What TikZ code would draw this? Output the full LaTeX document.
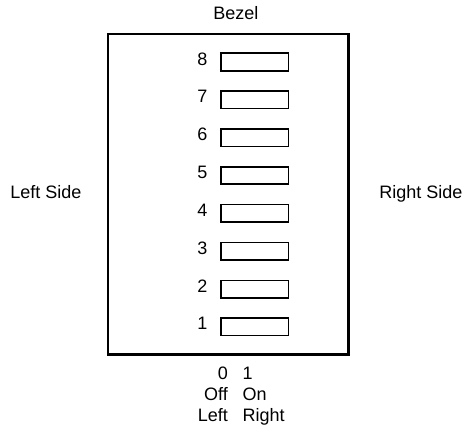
\documentclass[tikz,border=0pt]{standalone}
\usepackage{fontspec}
\setmainfont{Liberation Sans}
\usetikzlibrary{positioning}

\begin{document}
\begin{tikzpicture}[x=1pt, y=-1pt,
    frame/.style={rectangle, draw, line width=2.2pt, minimum width=240.5pt, minimum height=320.5pt, inner sep=0pt},
    switch/.style={rectangle, draw, line width=1.6pt, minimum width=67.5pt, minimum height=17.5pt, inner sep=0pt},
    txt/.style={inner sep=0pt, font=\fontsize{18}{21}\selectfont}
]
\useasboundingbox (0,0) rectangle (465,428);

% Bezel frame and sides
\node[frame] (bezel) at (228.25,194.25) {};
\node[txt, anchor=base] (top) at (235.8,20) {Bezel};
\node[txt, anchor=base] (left) at (46,198) {Left Side};
\node[txt, anchor=base] (right) at (421,198) {Right Side};

% Switches
\node[switch] (sw8) at (254.75,62) {};
\node[switch] (sw7) at (254.75,99.8) {};
\node[switch] (sw6) at (254.75,137.7) {};
\node[switch] (sw5) at (254.75,175.5) {};
\node[switch] (sw4) at (254.75,213.4) {};
\node[switch] (sw3) at (254.75,251.2) {};
\node[switch] (sw2) at (254.75,289.1) {};
\node[switch] (sw1) at (254.75,326.9) {};

% Switch numbers
\node[txt, anchor=base] (num8) at (202.5,65) {8};
\node[txt, anchor=base] (num7) at (202.5,102.8) {7};
\node[txt, anchor=base] (num6) at (202.5,140.7) {6};
\node[txt, anchor=base] (num5) at (202.5,178.5) {5};
\node[txt, anchor=base] (num4) at (202.5,216.4) {4};
\node[txt, anchor=base] (num3) at (202.5,254.2) {3};
\node[txt, anchor=base] (num2) at (202.5,292.1) {2};
\node[txt, anchor=base] (num1) at (202.5,329.9) {1};

% Positions
\node[txt, anchor=base east] (zero) at (228,379) {0};
\node[txt, anchor=base west] (one) at (242.5,379) {1};
\node[txt, anchor=base east] (off) at (228,400) {Off};
\node[txt, anchor=base west] (on) at (242.5,400) {On};
\node[txt, anchor=base east] (lft) at (228,421) {Left};
\node[txt, anchor=base west] (rgt) at (242.5,421) {Right};

\end{tikzpicture}
\end{document}
